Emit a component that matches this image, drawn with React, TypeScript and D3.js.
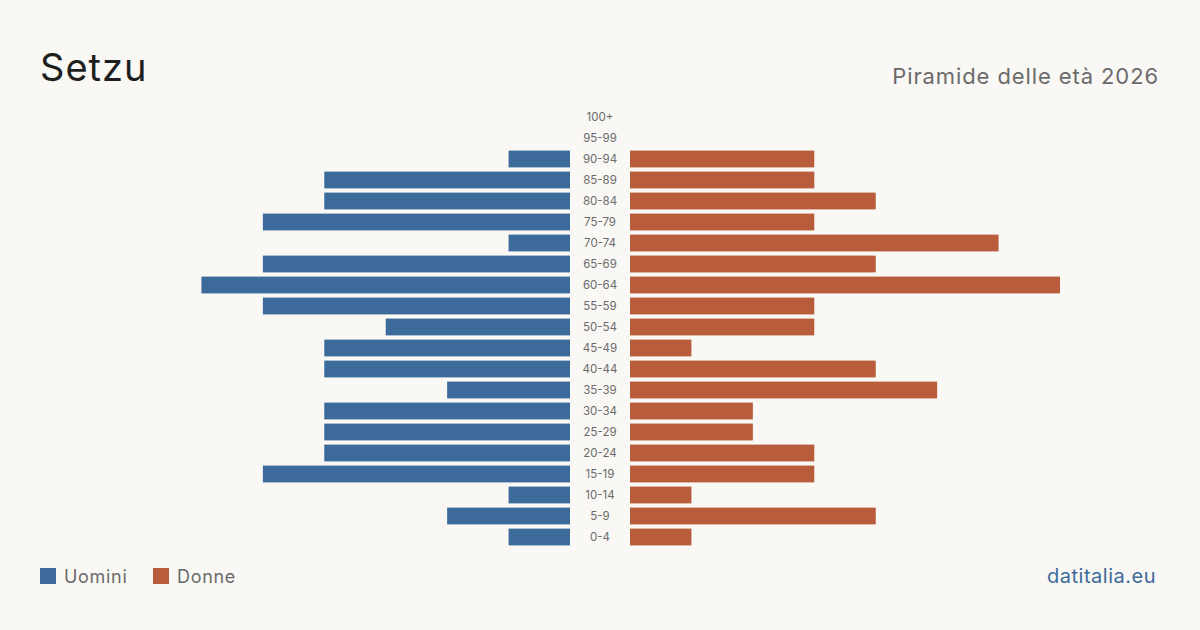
import React from "react";
import * as d3 from "d3";

const ageGroups = ["100+","95-99","90-94","85-89","80-84","75-79","70-74","65-69","60-64","55-59","50-54","45-49","40-44","35-39","30-34","25-29","20-24","15-19","10-14","5-9","0-4"];
const men = [0,0,1,4,4,5,1,5,6,5,3,4,4,2,4,4,4,5,1,2,1];
const women = [0,0,3,3,4,3,6,4,7,3,3,1,4,5,2,2,3,3,1,4,1];

const W = 1200, H = 630;
const BLUE = "#3b6a9b", ORANGE = "#b95c3c", BG = "#f9f8f4";
const FONT = "Inter, 'Noto Sans', sans-serif";

export default function App() {
  const maxV = d3.max([...men, ...women]) as number;
  const left = d3.scaleLinear().domain([0, maxV]).range([570, 140]);
  const right = d3.scaleLinear().domain([0, maxV]).range([630, 1060]);
  const y = d3.scaleBand<string>().domain(ageGroups).range([106.5, 547.5]).paddingInner(0.2).paddingOuter(0.1);
  return (
    <div style={{ position: "absolute", left: 0, top: 0 }}>
      <svg width={W} height={H} style={{ display: "block", background: BG, fontFamily: FONT }}>
        <rect width={W} height={H} fill={BG} />
        <text x={40} y={81} fontSize={38} fill="#1e1e1e" letterSpacing={1}>Setzu</text>
        <text x={1159} y={84} fontSize={22} fill="#6b6b6b" textAnchor="end" letterSpacing={0.9}>Piramide delle età 2026</text>
        {ageGroups.map((g, i) => (
          <g key={g}>
            {men[i] > 0 && <rect x={left(men[i])} y={y(g)} width={left(0) - left(men[i])} height={y.bandwidth()} fill={BLUE} />}
            {women[i] > 0 && <rect x={right(0)} y={y(g)} width={right(women[i]) - right(0)} height={y.bandwidth()} fill={ORANGE} />}
            <text x={600} y={(y(g) as number) + y.bandwidth() / 2} dy="0.35em" textAnchor="middle" fontSize={11.5} fill="#6b6b6b">{g}</text>
          </g>
        ))}
        <rect x={40} y={568} width={16} height={16} fill={BLUE} />
        <text x={64} y={583} fontSize={18} fill="#6b6b6b" letterSpacing={0.7}>Uomini</text>
        <rect x={153} y={568} width={16} height={16} fill={ORANGE} />
        <text x={177} y={583} fontSize={18} fill="#6b6b6b" letterSpacing={0.7}>Donne</text>
        <text x={1156} y={583} fontSize={20} fill={BLUE} textAnchor="end" letterSpacing={0.5}>datitalia.eu</text>
      </svg>
    </div>
  );
}
